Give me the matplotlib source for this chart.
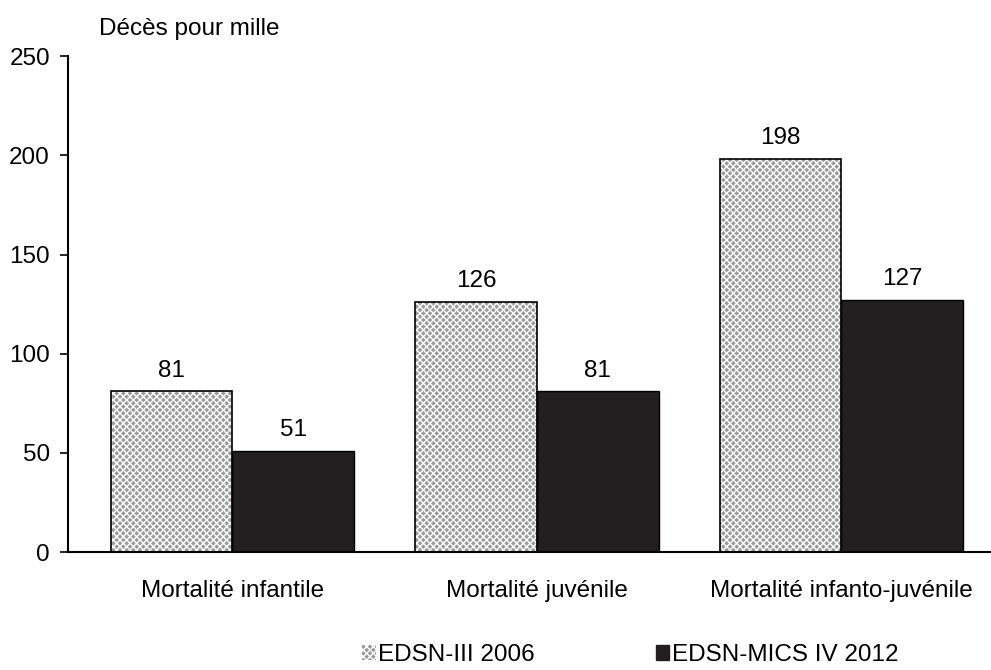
import numpy as np
import matplotlib.pyplot as plt
import matplotlib.patches as mpatches

categories = ["Mortalité infantile", "Mortalité juvénile", "Mortalité infanto-juvénile"]
edsn_2006 = [81, 126, 198]
edsn_2012 = [51, 81, 127]
series_names = ["EDSN-III 2006", "EDSN-MICS IV 2012"]

plt.rcParams['font.family'] = ['Liberation Sans', 'DejaVu Sans']
plt.rcParams['hatch.linewidth'] = 1.0

fig = plt.figure(figsize=(9.91, 6.70), dpi=100)
ax = fig.add_axes([0.0686, 0.176, 0.931, 0.740])

x = np.arange(len(categories))
w = 0.4
fs = 17.5

# hatched bars: grey fill with white cross-hatch, then black outline on top
ax.bar(x - w/2, edsn_2006, w, align='center', color='#9a9a9a', edgecolor='white',
       hatch='xxxxx', linewidth=0)
ax.bar(x - w/2, edsn_2006, w, align='center', fill=False, edgecolor='black', linewidth=1.2)
ax.bar(x + w/2, edsn_2012, w, align='center', color='#231f20', edgecolor='black', linewidth=1.0)

for xi, v in zip(x - w/2, edsn_2006):
    ax.text(xi, v + 5, str(v), ha='center', va='bottom', fontsize=fs)
for xi, v in zip(x + w/2, edsn_2012):
    ax.text(xi, v + 5, str(v), ha='center', va='bottom', fontsize=fs)

ax.set_ylim(0, 250)
ax.set_xlim(-0.54, 2.49)
ax.set_yticks(range(0, 251, 50))
ax.set_xticks(x)
ax.set_xticklabels(categories, fontsize=fs)
ax.tick_params(axis='x', length=0, pad=20)
ax.tick_params(axis='y', labelsize=fs, length=6, width=1.2, direction='out', pad=7)
for s in ['top', 'right']:
    ax.spines[s].set_visible(False)
ax.spines['left'].set_linewidth(1.5)
ax.spines['bottom'].set_linewidth(1.5)

fig.text(0.100, 0.957, "Décès pour mille", fontsize=fs, ha='left', va='center')

h1 = mpatches.Patch(facecolor='#9a9a9a', edgecolor='white', hatch='xxxxx', linewidth=0)
h2 = mpatches.Patch(facecolor='#231f20', edgecolor='#231f20')
fig.legend([h1, h2], series_names, loc='center', bbox_to_anchor=(0.636, 0.022), ncol=2,
           frameon=False, fontsize=fs, handlelength=0.55, handleheight=0.6,
           handletextpad=0.1, columnspacing=5.0)

fig.savefig("out.png", dpi=100)
